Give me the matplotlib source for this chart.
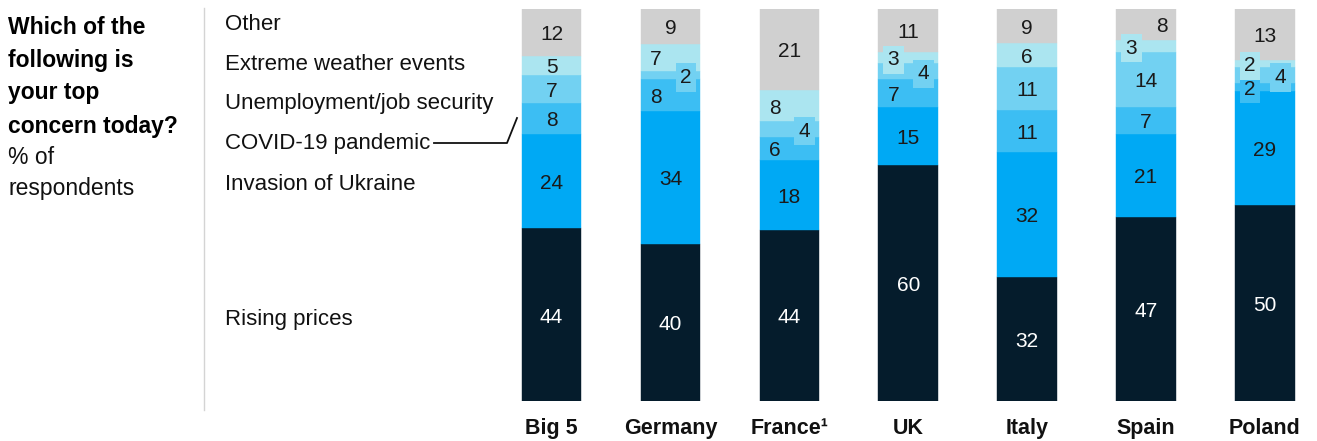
import matplotlib
matplotlib.use("Agg")
import matplotlib.pyplot as plt
from matplotlib.lines import Line2D

plt.rcParams['font.family'] = ['Liberation Sans', 'DejaVu Sans']

# ---- data ----
countries = ["Big 5", "Germany", "France¹", "UK", "Italy", "Spain", "Poland"]
series_names = ["Rising prices", "Invasion of Ukraine", "COVID-19 pandemic",
                "Unemployment/job security", "Extreme weather events", "Other"]
rising_prices = [44, 40, 44, 60, 32, 47, 50]
invasion_ukraine = [24, 34, 18, 15, 32, 21, 29]
covid = [8, 8, 6, 7, 11, 7, 2]
unemployment = [7, 2, 4, 4, 11, 14, 4]
extreme_weather = [5, 7, 8, 3, 6, 3, 2]
other = [12, 9, 21, 11, 9, 8, 13]

series_values = [rising_prices, invasion_ukraine, covid, unemployment, extreme_weather, other]
colors = ["#051c2c", "#00a9f4", "#3cbef3", "#72d1f2", "#abe5f0", "#d0d0d0"]
text_colors = ["white", "#1a1a1a", "#1a1a1a", "#1a1a1a", "#1a1a1a", "#1a1a1a"]

# label placement style: (country index, series index) -> (side, boxed)
label_style = {
    (1, 4): ("left", False), (1, 3): ("right", True), (1, 2): ("left", False),
    (2, 4): ("left", False), (2, 3): ("right", True), (2, 2): ("left", False),
    (3, 4): ("left", True), (3, 3): ("right", True), (3, 2): ("left", False),
    (5, 5): ("right", False), (5, 4): ("left", True),
    (6, 4): ("left", True), (6, 3): ("right", True), (6, 2): ("left", True),
}

W, H = 1317, 441
fig = plt.figure(figsize=(W / 100, H / 100), dpi=100)

def fx(px):
    return px / W

def fy(py):
    return 1 - py / H

# axes placement
left_px, right_px = 492.05, 1312.5
top_px, bottom_px = 8.5, 401
ax = fig.add_axes([fx(left_px), fy(bottom_px), fx(right_px - left_px), (bottom_px - top_px) / H])
ax.set_xlim(-0.5, 6.4)
ax.set_ylim(0, 100)
ax.axis("off")

bar_w = 0.5
n = len(countries)
totals = [sum(series_values[s][i] for s in range(len(series_values))) for i in range(n)]
bottoms = [0.0] * n
for s, vals in enumerate(series_values):
    heights = [vals[i] / totals[i] * 100 for i in range(n)]
    ax.bar(range(n), heights, bottom=bottoms, width=bar_w, color=colors[s],
           edgecolor=colors[s], linewidth=0.3, zorder=2)
    for i in range(n):
        yc = bottoms[i] + heights[i] / 2 - 0.6
        side, boxed = label_style.get((i, s), ("center", False))
        dx = {"center": 0.0, "left": -0.125, "right": 0.13}[side]
        kw = {}
        if boxed:
            kw["bbox"] = dict(boxstyle="square,pad=0.22", fc=colors[s], ec="none")
        ax.text(i + dx, yc, str(vals[i]), ha="center", va="center",
                fontsize=15, color=text_colors[s], zorder=4, **kw)
    bottoms = [bottoms[i] + heights[i] for i in range(n)]

# category labels
for i, c in enumerate(countries):
    ax.text(i, -7, c, ha="center", va="center", fontsize=15.5, fontweight="bold",
            color="#111111", transform=ax.transData, clip_on=False)

# left title
title_lines = ["Which of the", "following is", "your top", "concern today?"]
for k, line in enumerate(title_lines):
    fig.text(fx(8), fy(27 + 33 * k), line, fontsize=16.5, fontweight="bold",
             color="#000000", ha="left", va="center")
fig.text(fx(8), fy(158), "% of", fontsize=16.5, color="#111111", ha="left", va="center")
fig.text(fx(8), fy(189), "respondents", fontsize=16.5, color="#111111", ha="left", va="center")

# divider
fig.add_artist(Line2D([fx(204), fx(204)], [fy(8), fy(410)], color="#d4d4d4", lw=1))

# legend labels (top to bottom)
legend_y = {"Other": 25, "Extreme weather events": 65, "Unemployment/job security": 104,
            "COVID-19 pandemic": 144, "Invasion of Ukraine": 185, "Rising prices": 320}
for name, ypx in legend_y.items():
    fig.text(fx(225), fy(ypx), name, fontsize=16, color="#111111", ha="left", va="center")

# connector line from COVID label to Big 5 bar
fig.add_artist(Line2D([fx(434), fx(507), fx(517)], [fy(143), fy(143), fy(118)],
                      color="#111111", lw=1.3))

fig.savefig("out.png", dpi=100)
